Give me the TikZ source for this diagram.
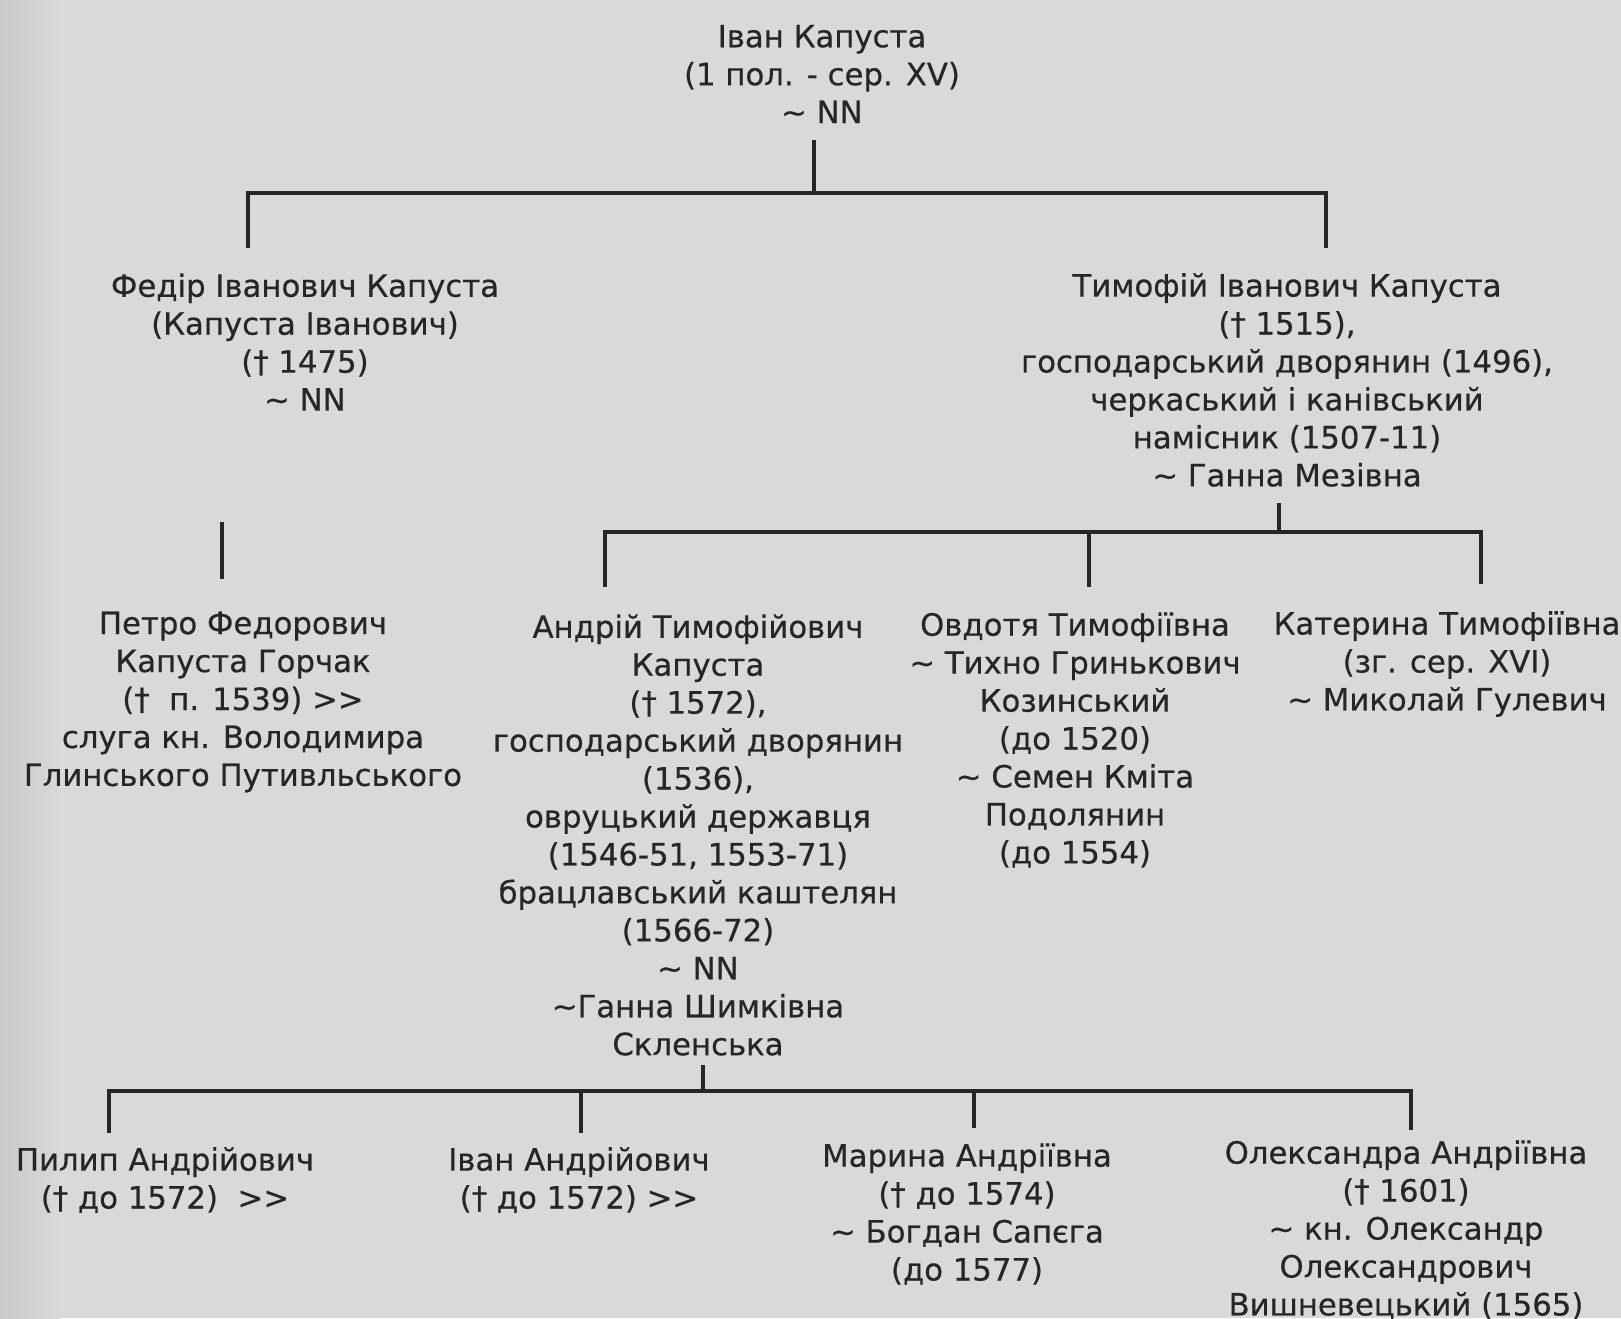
\documentclass[tikz,border=0pt]{standalone}
\usepackage{fontspec}
\setmainfont{DejaVu Sans}[FakeBold=0.5]
\usetikzlibrary{positioning}
\definecolor{scanpaper}{HTML}{D9D9D9}
\definecolor{scanedge}{HTML}{CACACA}
\definecolor{scanink}{HTML}{262626}
\newcommand{\more}{>\kern0pt>}

\begin{document}
\begin{tikzpicture}[
  x=0.02cm, y=-0.02cm,
  person/.style={align=center, font=\fontsize{17.5}{21.6}\selectfont, text=scanink, inner sep=0pt},
  link/.style={draw=scanink, line width=2pt}
]
\fill[scanpaper] (0,0) rectangle (1621,1318);
\shade[left color=scanedge, right color=scanpaper] (0,0) rectangle (60,1318);
\useasboundingbox (0,0) rectangle (1621,1318);

% generation 1
\node[person] (ivan) at (822,74) {Іван Капуста\\(1 пол. - сер. XV)\\\textasciitilde{} NN};

% generation 2
\node[person] (fedir) at (305,342) {Федір Іванович Капуста\\(Капуста Іванович)\\(† 1475)\\\textasciitilde{} NN};
\node[person] (tymofii) at (1287,380) {Тимофій Іванович Капуста\\(† 1515),\\господарський дворянин (1496),\\черкаський і канівський\\намісник (1507-11)\\\textasciitilde{} Ганна Мезівна};

% generation 3
\node[person] (petro) at (243,702) {Петро Федорович\\Капуста Горчак\\(†\ \ п. 1539) \more\\слуга кн. Володимира\\Глинського Путивльського};
\node[person] (andrii) at (698,835) {Андрій Тимофійович\\Капуста\\(† 1572),\\господарський дворянин\\(1536),\\овруцький державця\\(1546-51, 1553-71)\\брацлавський каштелян\\(1566-72)\\\textasciitilde{} NN\\\textasciitilde Ганна Шимківна\\Скленська};
\node[person] (ovdotia) at (1075,740) {Овдотя Тимофіївна\\\textasciitilde{} Тихно Гринькович\\Козинський\\(до 1520)\\\textasciitilde{} Семен Кміта\\Подолянин\\(до 1554)};
\node[person] (kateryna) at (1447,664) {Катерина Тимофіївна\\(зг. сер. XVI)\\\textasciitilde{} Миколай Гулевич};

% generation 4
\node[person] (pylyp) at (165,1180) {Пилип Андрійович\\(† до 1572)\ \ \more};
\node[person] (ivana) at (579,1180) {Іван Андрійович\\(† до 1572) \more};
\node[person] (maryna) at (967,1214) {Марина Андріївна\\(† до 1574)\\\textasciitilde{} Богдан Сапєга\\(до 1577)};
\node[person] (oleksandra) at (1406,1230) {Олександра Андріївна\\(† 1601)\\\textasciitilde{} кн. Олександр\\Олександрович\\Вишневецький (1565)};

% connectors
\coordinate (ivanstem) at (814,140);
\coordinate (bar0) at (814,193);
\coordinate (fedirdrop) at (248,248);
\coordinate (tymofiidrop) at (1326,248);
\draw[link] (ivanstem) -- (bar0);
\draw[link] (fedirdrop) |- (bar0) -| (tymofiidrop);

\coordinate (fedirstem) at (222,522);
\coordinate (petrodrop) at (222,579);
\draw[link] (fedirstem) -- (petrodrop);

\coordinate (tymofiistem) at (1279,503);
\coordinate (bar1) at (1279,532);
\coordinate (andriidrop) at (605,587);
\coordinate (ovdotiadrop) at (1089,587);
\coordinate (katerynadrop) at (1481,584);
\draw[link] (tymofiistem) -- (bar1);
\draw[link] (andriidrop) |- (bar1) -| (katerynadrop);
\draw[link] (ovdotiadrop) -- (ovdotiadrop |- bar1);

\coordinate (andriistem) at (703,1065);
\coordinate (bar2) at (703,1091);
\coordinate (pylypdrop) at (109,1133);
\coordinate (ivanadrop) at (581,1133);
\coordinate (marynadrop) at (974,1128);
\coordinate (oleksandradrop) at (1411,1130);
\draw[link] (andriistem) -- (bar2);
\draw[link] (pylypdrop) |- (bar2) -| (oleksandradrop);
\draw[link] (ivanadrop) -- (ivanadrop |- bar2);
\draw[link] (marynadrop) -- (marynadrop |- bar2);
\end{tikzpicture}
\end{document}
